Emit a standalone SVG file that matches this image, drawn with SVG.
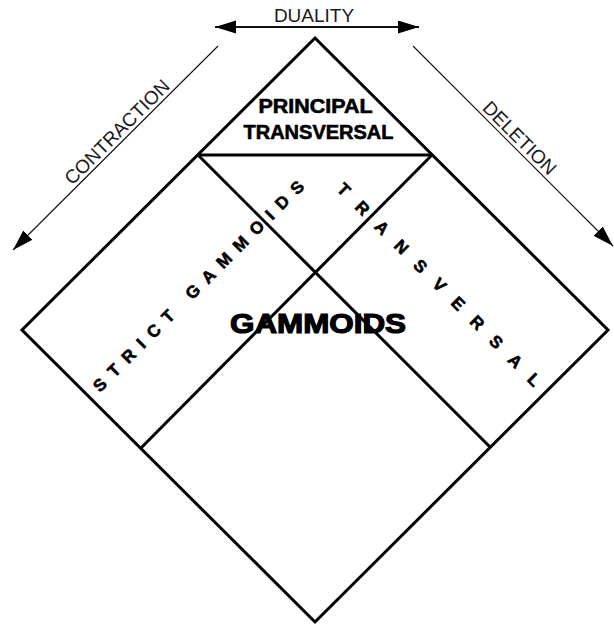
<svg xmlns="http://www.w3.org/2000/svg" width="614" height="626" viewBox="0 0 614 626">
  <style>
    .edge { fill: none; stroke: #000; stroke-width: 3; stroke-linejoin: miter; }
    .arrow { fill: none; stroke: #111; }
    .lbl { font-family: "Liberation Sans", Arial, sans-serif; fill: #1a1a1a; font-size: 19px; }
    .bold { font-family: "Liberation Sans", Arial, sans-serif; font-weight: bold; fill: #000; stroke: #000; }
  </style>
  <defs>
    <marker id="head" markerUnits="userSpaceOnUse" markerWidth="22" markerHeight="14" refX="21" refY="6.5" orient="auto-start-reverse">
      <path d="M0,0 L21,6.5 L0,13 z" fill="#000"/>
    </marker>
  </defs>
  <rect width="614" height="626" fill="#fff"/>

  <g id="connectors">
    <line class="arrow" x1="215" y1="27" x2="419" y2="27" stroke-width="1.8" marker-start="url(#head)" marker-end="url(#head)"/>
    <line class="arrow" x1="218" y1="46" x2="13" y2="250" stroke-width="1.1" marker-end="url(#head)"/>
    <line class="arrow" x1="413" y1="46" x2="613" y2="246" stroke-width="1.1" marker-end="url(#head)"/>
  </g>

  <g id="arrow-labels">
    <text class="lbl" x="314" y="22" text-anchor="middle">DUALITY</text>
    <text class="lbl" x="121.6" y="136.6" text-anchor="middle" transform="rotate(-45 121.6 136.6)">CONTRACTION</text>
    <text class="lbl" x="515" y="142.6" text-anchor="middle" transform="rotate(45 515 142.6)">DELETION</text>
  </g>

  <g id="gammoids">
    <polygon class="edge" points="315,38 608,330 315,622 22,330"/>
    <text class="bold" x="318" y="333" font-size="27" stroke-width="1.2" text-anchor="middle" textLength="176" lengthAdjust="spacingAndGlyphs">GAMMOIDS</text>
  </g>

  <g id="principal-transversal">
    <line class="edge" x1="198" y1="155" x2="432" y2="155"/>
    <text class="bold" x="315.5" y="113" font-size="19.5" stroke-width="0.6" text-anchor="middle" textLength="114" lengthAdjust="spacingAndGlyphs">PRINCIPAL</text>
    <text class="bold" x="318.5" y="139" font-size="19.5" stroke-width="0.6" text-anchor="middle" textLength="150" lengthAdjust="spacingAndGlyphs">TRANSVERSAL</text>
  </g>

  <g id="transversal">
    <line class="edge" x1="198" y1="155" x2="490" y2="447"/>
    <text class="bold" x="440.2" y="294.1" font-size="17" stroke-width="0.6" letter-spacing="15.2" text-anchor="middle" transform="rotate(45 440.2 294.1)">TRANSVERSAL</text>
  </g>

  <g id="strict-gammoids">
    <line class="edge" x1="432" y1="155" x2="141" y2="448"/>
    <text class="bold" x="205.9" y="287" font-size="17" stroke-width="0.6" letter-spacing="9.2" text-anchor="middle" transform="rotate(-45 205.9 287)">STRICT GAMMOIDS</text>
  </g>
</svg>
